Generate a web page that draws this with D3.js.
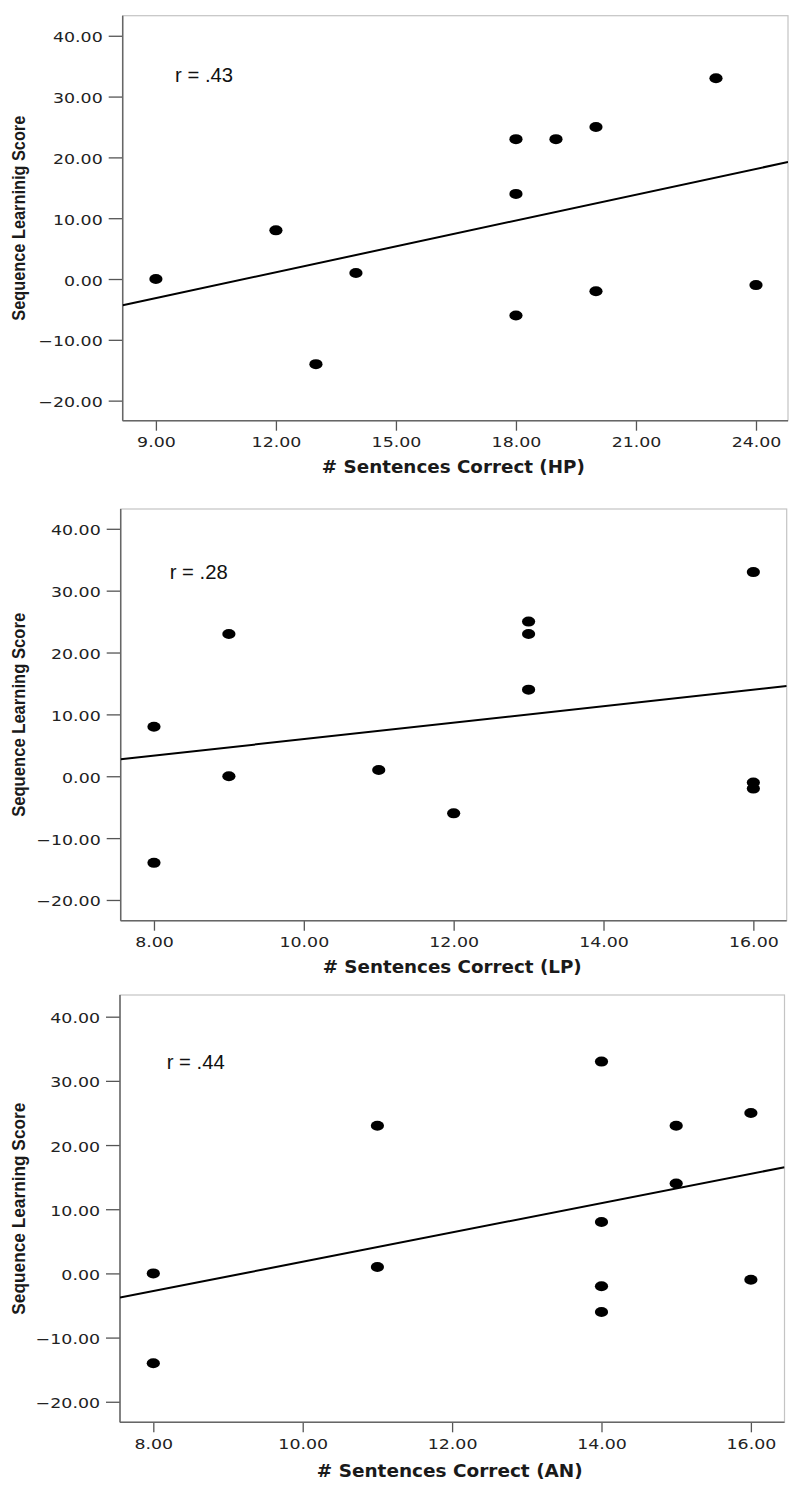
<!DOCTYPE html>
<html>
<head>
<meta charset="utf-8">
<script src="https://cdn.jsdelivr.net/npm/d3@7"></script>
<style>
  body { margin: 0; background: #fff; }
  svg { display: block; }
</style>
</head>
<body>
<svg id="chart"></svg>
<script>
"use strict";

// Values (same 12 subjects each time)
const hpCorrect = [9, 12, 13, 14, 18, 18, 18, 19, 20, 20, 23, 24];
const hpScore = [0, 8, -14, 1, 23, 14, -6, 23, 25, -2, 33, -1];

const lpCorrect = [8, 8, 9, 9, 11, 12, 13, 13, 13, 16, 16, 16];
const lpScore = [8, -14, 23, 0, 1, -6, 25, 23, 14, 33, -1, -2];

const anCorrect = [8, 8, 11, 11, 14, 14, 14, 14, 15, 15, 16, 16];
const anScore = [0, -14, 23, 1, 33, 8, -2, -6, 23, 14, 25, -1];

const yTicks = [-20, -10, 0, 10, 20, 30, 40];
const hpTicks = [9, 12, 15, 18, 21, 24];
const lpTicks = [8, 10, 12, 14, 16];
const anTicks = [8, 10, 12, 14, 16];

const rLabels = ["r = .43", "r = .28", "r = .44"];
const xTitles = ["# Sentences Correct (HP)", "# Sentences Correct (LP)", "# Sentences Correct (AN)"];
const yTitles = ["Sequence Learninig Score", "Sequence Learning Score", "Sequence Learning Score"];

const svg = d3.select('#chart')
    .attr('width', 800)
    .attr('height', 1499);

// layout of each panel (frame in px, axis extents, where the r label sits)
const panels = [
    { x: hpCorrect, y: hpScore, xTicks: hpTicks,
      box: { left: 122.7, right: 788, top: 15.7, bottom: 420.7 },
      xDomain: [8.17, 24.8], yDomain: [-23.3, 43.3], rAt: [9.48, 32.4],
      xTitleLen: 263, xTitleShift: -2, yTitleLen: 205, yTitleX: 25 },
    { x: lpCorrect, y: lpScore, xTicks: lpTicks,
      box: { left: 120.7, right: 786.7, top: 509, bottom: 920.7 },
      xDomain: [7.556, 16.445], yDomain: [-23.35, 43.2], rAt: [8.21, 31.9],
      xTitleLen: 259, xTitleShift: -1.5, yTitleLen: 204, yTitleX: 25 },
    { x: anCorrect, y: anScore, xTicks: anTicks,
      box: { left: 120, right: 784.5, top: 995, bottom: 1422.3 },
      xDomain: [7.554, 16.45], yDomain: [-23.2, 43.38], rAt: [8.18, 31.85],
      xTitleLen: 266, xTitleShift: -2.5, yTitleLen: 212, yTitleX: 25 }
];

// the reference text is drawn wider than the font, so stretch it
const stretch = (sel, k) => sel.each(function () {
    d3.select(this)
        .attr('textLength', this.getComputedTextLength() * k)
        .attr('lengthAdjust', 'spacingAndGlyphs');
});

// least squares line
const fitLine = (xs, ys) => {
    const mx = d3.mean(xs), my = d3.mean(ys);
    const sxy = d3.sum(xs, (v, i) => (v - mx) * (ys[i] - my));
    const sxx = d3.sum(xs, v => (v - mx) * (v - mx));
    const b = sxy / sxx;
    return (v) => my + b * (v - mx);
};

const drawPanel = (p, i) => {
    const b = p.box;
    const xScale = d3.scaleLinear().domain(p.xDomain).range([b.left, b.right]);
    const yScale = d3.scaleLinear().domain(p.yDomain).range([b.bottom, b.top]);
    const g = svg.append('g');

    // light frame on top/right
    g.append('rect')
        .attr('x', b.left)
        .attr('y', b.top)
        .attr('width', b.right - b.left)
        .attr('height', b.bottom - b.top)
        .attr('fill', 'none')
        .attr('stroke', '#c4c4c4')
        .attr('stroke-width', 1.2);

    const clipId = 'clip' + i;
    g.append('clipPath').attr('id', clipId)
        .append('rect')
        .attr('x', b.left)
        .attr('y', b.top)
        .attr('width', b.right - b.left)
        .attr('height', b.bottom - b.top);

    // y axis
    const yAxis = g.append('g')
        .attr('transform', `translate(${b.left},0)`)
        .call(d3.axisLeft(yScale).tickValues(yTicks).tickFormat(d3.format('.2f'))
            .tickSize(14).tickSizeOuter(0));
    yAxis.select('.domain').remove();
    yAxis.selectAll('.tick line').attr('stroke', '#555').attr('stroke-width', 1.3);
    yAxis.selectAll('.tick text')
        .attr('x', -20)
        .attr('dy', null)
        .attr('y', 6)
        .attr('fill', '#222')
        .style('font-family', '"DejaVu Sans", sans-serif')
        .style('font-size', '14px')
        .call(stretch, 1.24);

    // x axis
    const xAxis = g.append('g')
        .attr('transform', `translate(0,${b.bottom})`)
        .call(d3.axisBottom(xScale).tickValues(p.xTicks).tickFormat(d3.format('.2f'))
            .tickSize(10).tickSizeOuter(0));
    xAxis.select('.domain').remove();
    xAxis.selectAll('.tick line').attr('stroke', '#555').attr('stroke-width', 1.3);
    xAxis.selectAll('.tick text')
        .attr('dy', null)
        .attr('y', 26.6)
        .attr('fill', '#222')
        .style('font-family', '"DejaVu Sans", sans-serif')
        .style('font-size', '14px')
        .call(stretch, 1.24);

    // darker left and bottom axis lines
    g.append('line')
        .attr('x1', b.left).attr('x2', b.left)
        .attr('y1', b.top).attr('y2', b.bottom)
        .attr('stroke', '#666').attr('stroke-width', 1.5);
    g.append('line')
        .attr('x1', b.left).attr('x2', b.right)
        .attr('y1', b.bottom).attr('y2', b.bottom)
        .attr('stroke', '#666').attr('stroke-width', 1.5);

    // fit line
    const f = fitLine(p.x, p.y);
    g.append('path')
        .datum(p.xDomain)
        .attr('clip-path', `url(#${clipId})`)
        .attr('d', d3.line().x(d => xScale(d)).y(d => yScale(f(d))))
        .attr('fill', 'none')
        .attr('stroke', '#000')
        .attr('stroke-width', 2);

    // points
    g.selectAll('ellipse')
        .data(p.x.map((v, k) => [v, p.y[k]]))
        .enter()
        .append('ellipse')
        .attr('cx', d => xScale(d[0]))
        .attr('cy', d => yScale(d[1]))
        .attr('rx', 6.6)
        .attr('ry', 5)
        .attr('fill', '#000');

    // r label
    g.append('text')
        .attr('x', xScale(p.rAt[0]))
        .attr('y', yScale(p.rAt[1]))
        .text(rLabels[i])
        .attr('fill', '#111')
        .style('font-family', '"Liberation Sans", Arial, sans-serif')
        .style('font-size', '20px')
        .attr('textLength', 58)
        .attr('lengthAdjust', 'spacingAndGlyphs');

    // axis titles
    g.append('text')
        .attr('x', (b.left + b.right) / 2 + p.xTitleShift)
        .attr('y', b.bottom + 52.5 + (i === 2 ? 2.5 : 0))
        .attr('text-anchor', 'middle')
        .text(xTitles[i])
        .attr('fill', '#1a1a1a')
        .style('font-family', '"DejaVu Sans", sans-serif')
        .style('font-weight', 'bold')
        .style('font-size', '18px')
        .attr('textLength', p.xTitleLen)
        .attr('lengthAdjust', 'spacingAndGlyphs');

    g.append('text')
        .attr('transform', `translate(${p.yTitleX},${(b.top + b.bottom) / 2}) rotate(-90)`)
        .attr('text-anchor', 'middle')
        .text(yTitles[i])
        .attr('fill', '#1a1a1a')
        .style('font-family', '"Liberation Sans Narrow", "Liberation Sans", Arial, sans-serif')
        .style('font-weight', 'bold')
        .style('font-size', '19px')
        .attr('textLength', p.yTitleLen)
        .attr('lengthAdjust', 'spacingAndGlyphs');
};

panels.forEach(drawPanel);
</script>
</body>
</html>
